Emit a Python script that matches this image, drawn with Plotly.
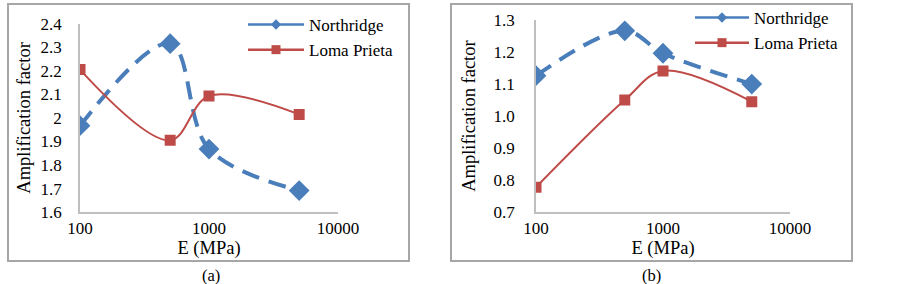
import plotly.graph_objects as go

# ---- data ----
E_vals = [100, 500, 1000, 5000]
north_a = [1.967, 2.315, 1.868, 1.692]
loma_a = [2.205, 1.905, 2.093, 2.015]
north_b = [1.126, 1.266, 1.196, 1.100]
loma_b = [0.778, 1.050, 1.141, 1.045]
x_tickvals = [100, 1000, 10000]
x_ticktext = ["100", "1000", "10000"]
ya_ticks = [1.6, 1.7, 1.8, 1.9, 2.0, 2.1, 2.2, 2.3, 2.4]
ya_text = ["1.6", "1.7", "1.8", "1.9", "2", "2.1", "2.2", "2.3", "2.4"]
yb_ticks = [0.7, 0.8, 0.9, 1.0, 1.1, 1.2, 1.3]
yb_text = ["0.7", "0.8", "0.9", "1.0", "1.1", "1.2", "1.3"]

BLUE = "#4a7ebb"
RED = "#be4b48"
FONT = "Liberation Serif, Times New Roman, serif"
W, H = 903, 284
TICK_FS = 17
TITLE_FS = 18.5
LEG_FS = 17

fig = go.Figure()


def add_panel(north, loma, xa, ya, leg):
    fig.add_trace(go.Scatter(x=E_vals, y=north, xaxis=xa, yaxis=ya, mode="lines+markers",
                             line=dict(color=BLUE, width=4, dash="18px,10px", shape="spline", smoothing=1),
                             marker=dict(symbol="diamond", size=16, color=BLUE), showlegend=False))
    fig.add_trace(go.Scatter(x=E_vals, y=loma, xaxis=xa, yaxis=ya, mode="lines+markers",
                             line=dict(color=RED, width=2, shape="spline", smoothing=1),
                             marker=dict(symbol="square", size=11, color=RED), showlegend=False))
    # legend entries
    fig.add_trace(go.Scatter(x=[None], y=[None], xaxis=xa, yaxis=ya, mode="lines+markers", name="Northridge",
                             line=dict(color=BLUE, width=2.5), marker=dict(symbol="diamond", size=8, color=BLUE),
                             legend=leg))
    fig.add_trace(go.Scatter(x=[None], y=[None], xaxis=xa, yaxis=ya, mode="lines+markers", name="Loma Prieta",
                             line=dict(color=RED, width=2.5), marker=dict(symbol="square", size=9, color=RED),
                             legend=leg))


add_panel(north_a, loma_a, "x", "y", "legend")
add_panel(north_b, loma_b, "x2", "y2", "legend2")

axis_common = dict(showgrid=False, zeroline=False, showline=True, linecolor="#bfbfbf", linewidth=1.5,
                   ticks="", ticklen=0, automargin=False,
                   tickfont=dict(family=FONT, size=TICK_FS, color="black"))

xcommon = dict(axis_common, type="log", range=[2, 4], tickvals=x_tickvals, ticktext=x_ticktext,
               ticklabelstandoff=0,
               title=dict(text="E (MPa)", font=dict(family=FONT, size=TITLE_FS, color="black"), standoff=4))

ytitle = dict(text="Amplification factor", font=dict(family=FONT, size=TITLE_FS, color="black"))

fig.update_layout(
    width=W, height=H, margin=dict(l=0, r=0, t=0, b=0),
    paper_bgcolor="white", plot_bgcolor="white",
    font=dict(family=FONT, color="black"),
    xaxis=dict(xcommon, domain=[80 / W, 338 / W], anchor="y"),
    yaxis=dict(axis_common, domain=[(H - 212) / H, (H - 22.7) / H], range=[1.6, 2.4], anchor="x",
               tickvals=ya_ticks, ticktext=ya_text, ticklabelstandoff=13,
               title=dict(ytitle, standoff=5)),
    xaxis2=dict(xcommon, domain=[536 / W, 790 / W], anchor="y2"),
    yaxis2=dict(axis_common, domain=[(H - 212) / H, (H - 19) / H], range=[0.7, 1.3], anchor="x2",
                tickvals=yb_ticks, ticktext=yb_text, ticklabelstandoff=16,
                title=dict(ytitle, standoff=13)),
    legend=dict(x=243 / W, y=(H - 7) / H, xanchor="left", yanchor="top", bgcolor="rgba(0,0,0,0)",
                font=dict(family=FONT, size=LEG_FS, color="black"), itemwidth=56, tracegroupgap=0),
    legend2=dict(x=690 / W, y=(H + 1) / H, xanchor="left", yanchor="top", bgcolor="rgba(0,0,0,0)",
                 font=dict(family=FONT, size=LEG_FS, color="black"), itemwidth=54, tracegroupgap=0),
    shapes=[
        dict(type="rect", xref="paper", yref="paper", x0=8 / W, x1=409 / W, y0=(H - 261) / H, y1=(H - 3) / H,
             line=dict(color="#a6a6a6", width=2), layer="below"),
        dict(type="rect", xref="paper", yref="paper", x0=451 / W, x1=852 / W, y0=(H - 261) / H, y1=(H - 3) / H,
             line=dict(color="#a6a6a6", width=2), layer="below"),
    ],
    annotations=[
        dict(text="(a)", x=200 / W, y=(H - 275) / H, xref="paper", yref="paper", showarrow=False,
             yanchor="middle", font=dict(family=FONT, size=16.5, color="black")),
        dict(text="(b)", x=663 / W, y=(H - 275) / H, xref="paper", yref="paper", showarrow=False,
             yanchor="middle", font=dict(family=FONT, size=16.5, color="black")),
    ],
)

fig.write_html("out.html", config={"displayModeBar": False},
               post_script="document.body.style.margin='0';")
